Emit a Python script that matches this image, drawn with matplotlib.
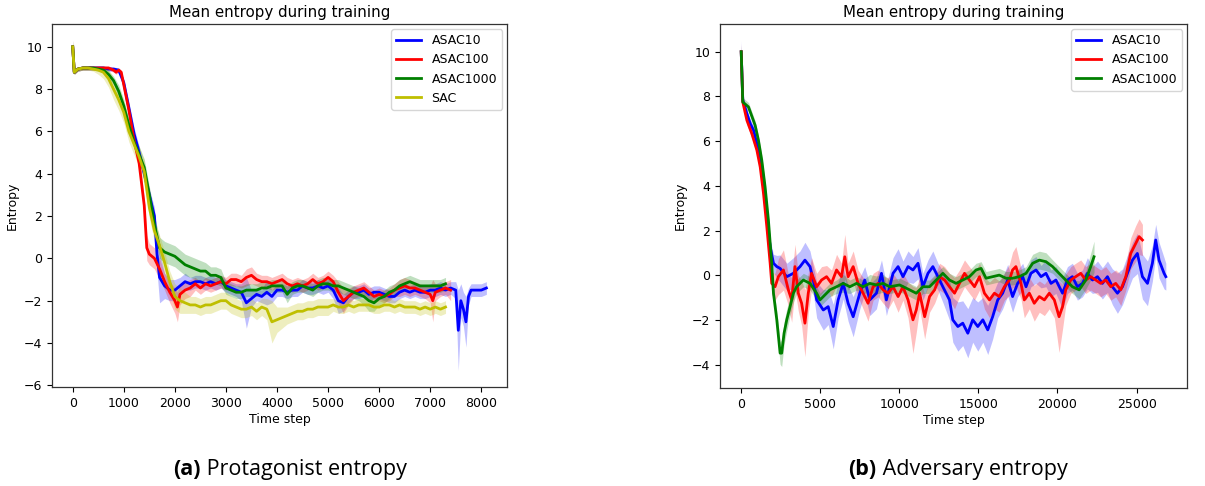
import matplotlib
matplotlib.use("Agg")
import matplotlib.pyplot as plt
import numpy as np

plt.rcParams['font.family'] = ['DejaVu Sans']

# ---------------- (a) Protagonist entropy ----------------
prot_x_asac10 = [0, 30, 100, 200, 300, 400, 500, 600, 700, 800, 900, 1000, 1100, 1200, 1300, 1400, 1500, 1600, 1650,
                 1700, 1800, 1900, 2000, 2100, 2200, 2300, 2400, 2500, 2600, 2700, 2800, 2900, 3000, 3100, 3200, 3300,
                 3400, 3500, 3600, 3700, 3800, 3900, 4000, 4100, 4200, 4300, 4400, 4500, 4600, 4700, 4800, 4900, 5000,
                 5100, 5200, 5300, 5400, 5500, 5600, 5700, 5800, 5900, 6000, 6100, 6200, 6300, 6400, 6500, 6600, 6700,
                 6800, 6900, 7000, 7100, 7200, 7300, 7400, 7500, 7550, 7600, 7650, 7700, 7750, 7800, 7900, 8000, 8100]
prot_y_asac10 = [10.0, 8.8, 8.95, 9.0, 9.0, 9.0, 9.0, 9.0, 8.95, 8.95, 8.9, 8.3, 7.1, 5.9, 5.0, 4.0, 3.0, 2.0, 0.2,
                 -0.9, -1.3, -1.5, -1.5, -1.3, -1.1, -1.2, -1.1, -1.1, -1.2, -1.1, -1.2, -1.1, -1.3, -1.4, -1.5, -1.6,
                 -2.1, -1.9, -1.7, -1.8, -1.6, -1.8, -1.5, -1.5, -1.6, -1.5, -1.5, -1.3, -1.4, -1.4, -1.3, -1.4, -1.3,
                 -1.5, -2.0, -2.1, -1.8, -1.6, -1.6, -1.5, -1.7, -1.6, -1.6, -1.7, -1.8, -1.8, -1.6, -1.5, -1.6, -1.5,
                 -1.6, -1.6, -1.5, -1.5, -1.4, -1.5, -1.4, -1.5, -3.4, -2.0, -2.4, -3.0, -1.8, -1.5, -1.5, -1.5, -1.4]
prot_s_asac10 = [0.3, 0.1, 0.1, 0.1, 0.1, 0.1, 0.1, 0.1, 0.1, 0.1, 0.1, 0.2, 0.3, 0.3, 0.3, 0.3, 0.3, 0.4, 0.8,
                 1.2, 0.6, 0.5, 0.5, 0.4, 0.4, 0.3, 0.3, 0.3, 0.3, 0.3, 0.3, 0.3, 0.3, 0.3, 0.3, 0.4,
                 1.2, 0.4, 0.3, 0.3, 0.6, 0.3, 0.3, 0.3, 0.3, 0.3, 0.3, 0.3, 0.3, 0.3, 0.3, 0.3, 0.3,
                 0.4, 0.6, 0.4, 0.3, 0.3, 0.3, 0.3, 0.3, 0.3, 0.3, 0.3, 0.3, 0.3, 0.3, 0.3, 0.3, 0.3,
                 0.3, 0.3, 0.3, 0.3, 0.3, 0.3, 0.3, 0.4, 1.9, 0.8, 0.8, 1.2, 0.4, 0.3, 0.3, 0.3, 0.3]

prot_x_asac100 = [0, 30, 100, 200, 300, 400, 500, 600, 700, 800, 850, 900, 950, 1000, 1100, 1200, 1300, 1400, 1450,
                  1500, 1600, 1700, 1800, 1900, 2000, 2050, 2100, 2200, 2300, 2400, 2500, 2600, 2700, 2800, 2900, 3000,
                  3100, 3200, 3300, 3400, 3500, 3600, 3700, 3800, 3900, 4000, 4100, 4200, 4300, 4400, 4500, 4600, 4700,
                  4800, 4900, 5000, 5100, 5200, 5300, 5400, 5500, 5600, 5700, 5800, 5900, 6000, 6100, 6200, 6300, 6400,
                  6500, 6600, 6700, 6800, 6900, 7000, 7050, 7100, 7200, 7300, 7400]
prot_y_asac100 = [10.0, 8.8, 8.95, 9.0, 9.0, 9.0, 9.0, 9.0, 9.0, 8.9, 8.8, 8.9, 8.8, 8.2, 7.0, 5.6, 4.5, 2.5, 0.5,
                  0.2, 0.0, -0.5, -1.1, -1.6, -2.0, -2.3, -1.7, -1.5, -1.4, -1.2, -1.4, -1.2, -1.3, -1.2, -1.1, -1.2,
                  -1.0, -1.0, -1.1, -0.9, -0.8, -1.0, -1.1, -1.1, -1.2, -1.1, -1.0, -1.2, -1.3, -1.2, -1.3, -1.2, -1.0,
                  -1.2, -1.1, -0.9, -1.1, -1.6, -2.0, -1.8, -1.6, -1.5, -1.4, -1.6, -1.8, -1.7, -1.8, -1.7, -1.5, -1.4,
                  -1.3, -1.4, -1.4, -1.5, -1.6, -1.7, -2.0, -1.6, -1.5, -1.4, -1.5]
prot_s_asac100 = [0.3, 0.1, 0.1, 0.1, 0.1, 0.1, 0.1, 0.1, 0.1, 0.1, 0.1, 0.1, 0.1, 0.2, 0.3, 0.3, 0.3, 0.4, 0.6,
                  0.5, 0.5, 0.5, 0.4, 0.5, 0.6, 0.7, 0.5, 0.4, 0.4, 0.3, 0.3, 0.3, 0.3, 0.3, 0.3, 0.3,
                  0.3, 0.3, 0.3, 0.4, 0.4, 0.3, 0.3, 0.3, 0.3, 0.3, 0.3, 0.3, 0.3, 0.3, 0.3, 0.3, 0.3,
                  0.3, 0.3, 0.3, 0.3, 0.5, 0.6, 0.4, 0.3, 0.3, 0.3, 0.3, 0.3, 0.3, 0.3, 0.3, 0.3, 0.4,
                  0.4, 0.4, 0.3, 0.3, 0.3, 0.4, 1.0, 0.4, 0.3, 0.3, 0.5]

prot_x_asac1000 = [0, 30, 100, 200, 300, 400, 500, 600, 700, 800, 900, 1000, 1100, 1200, 1300, 1400, 1500, 1600,
                   1700, 1800, 1900, 2000, 2100, 2200, 2300, 2400, 2500, 2600, 2700, 2800, 2900, 3000, 3100, 3200,
                   3300, 3400, 3500, 3600, 3700, 3800, 3900, 4000, 4100, 4200, 4300, 4400, 4500, 4600, 4700, 4800,
                   4900, 5000, 5100, 5200, 5300, 5400, 5500, 5600, 5700, 5800, 5900, 6000, 6100, 6200, 6300, 6400,
                   6500, 6600, 6700, 6800, 6900, 7000, 7100, 7200, 7300]
prot_y_asac1000 = [10.0, 8.8, 8.95, 9.0, 9.0, 9.0, 8.95, 8.9, 8.7, 8.4, 7.9, 7.2, 6.3, 5.5, 4.9, 4.3, 3.0, 1.6,
                   0.5, 0.3, 0.2, 0.1, -0.1, -0.3, -0.4, -0.5, -0.6, -0.6, -0.8, -0.8, -0.9, -1.4, -1.5, -1.6,
                   -1.6, -1.5, -1.5, -1.5, -1.4, -1.4, -1.3, -1.3, -1.3, -1.7, -1.4, -1.3, -1.3, -1.4, -1.5, -1.3,
                   -1.2, -1.2, -1.3, -1.3, -1.4, -1.5, -1.6, -1.7, -1.8, -2.0, -2.1, -1.9, -1.8, -1.6, -1.5, -1.3,
                   -1.2, -1.1, -1.2, -1.3, -1.3, -1.3, -1.3, -1.3, -1.2]
prot_s_asac1000 = [0.3, 0.1, 0.1, 0.1, 0.1, 0.1, 0.1, 0.1, 0.2, 0.2, 0.3, 0.3, 0.3, 0.3, 0.4, 0.4, 0.4, 0.4,
                   0.5, 0.5, 0.5, 0.5, 0.5, 0.5, 0.5, 0.5, 0.5, 0.4, 0.4, 0.4, 0.4, 0.3, 0.3, 0.3,
                   0.3, 0.3, 0.3, 0.3, 0.3, 0.3, 0.3, 0.3, 0.3, 0.4, 0.3, 0.3, 0.3, 0.3, 0.3, 0.3,
                   0.3, 0.3, 0.3, 0.3, 0.3, 0.3, 0.3, 0.3, 0.4, 0.5, 0.4, 0.3, 0.3, 0.3, 0.3, 0.3,
                   0.3, 0.3, 0.3, 0.3, 0.3, 0.3, 0.3, 0.3, 0.3]

prot_x_sac = prot_x_asac1000
prot_y_sac = [10.0, 8.8, 8.95, 9.0, 9.0, 8.95, 8.9, 8.8, 8.5, 8.0, 7.5, 6.9, 6.0, 5.4, 4.8, 4.1, 2.4, 1.3,
              0.6, -0.2, -1.1, -1.8, -2.0, -2.1, -2.2, -2.2, -2.3, -2.2, -2.2, -2.1, -2.0, -2.0, -2.2, -2.3,
              -2.4, -2.4, -2.3, -2.5, -2.3, -2.4, -3.0, -2.9, -2.8, -2.7, -2.6, -2.5, -2.5, -2.4, -2.4, -2.3,
              -2.3, -2.3, -2.2, -2.3, -2.3, -2.2, -2.3, -2.2, -2.2, -2.2, -2.3, -2.3, -2.2, -2.2, -2.3, -2.2,
              -2.3, -2.3, -2.3, -2.4, -2.3, -2.4, -2.3, -2.4, -2.3]
prot_s_sac = [0.3, 0.1, 0.1, 0.1, 0.1, 0.1, 0.2, 0.3, 0.4, 0.5, 0.5, 0.5, 0.5, 0.5, 0.5, 0.5, 0.5, 0.5,
              0.5, 0.5, 0.5, 0.6, 0.6, 0.5, 0.4, 0.4, 0.4, 0.4, 0.4, 0.4, 0.4, 0.4, 0.4, 0.4,
              0.4, 0.4, 0.4, 0.4, 0.4, 0.5, 1.0, 0.6, 0.5, 0.4, 0.4, 0.4, 0.4, 0.4, 0.4, 0.4,
              0.4, 0.4, 0.3, 0.3, 0.3, 0.3, 0.3, 0.3, 0.3, 0.3, 0.3, 0.3, 0.3, 0.3, 0.3, 0.3,
              0.3, 0.3, 0.3, 0.3, 0.3, 0.3, 0.3, 0.3, 0.3]

# ---------------- (b) Adversary entropy ----------------
adv_x_asac10 = [0, 100, 360, 570, 780, 990, 1200, 1410, 1620, 1830,
                2040, 2250, 2460, 2880, 3300, 3720, 4030, 4350, 4560, 4770,
                5190, 5500, 5820, 6130, 6450, 6760, 7080, 7500, 7810, 8130,
                8550, 8870, 9180, 9600, 9920, 10230, 10550, 10860, 11180, 11490,
                11810, 12120, 12440, 12750, 13170, 13380, 13700, 14010, 14330, 14640,
                14960, 15280, 15590, 15900, 16220, 16530, 16850, 17160, 17480, 17800,
                18010, 18320, 18640, 18960, 19270, 19590, 19900, 20320, 20630, 20940,
                21260, 21580, 21890, 22210, 22530, 22840, 23160, 23470, 23790, 24110,
                24420, 24740, 25050, 25370, 25690, 26000, 26210, 26420, 26740, 26850]
adv_y_asac10 = [10.0, 7.83, 7.23, 6.79, 6.49, 5.89, 5.15, 3.96, 2.62, 1.28,
                0.54, 0.39, 0.31, -0.06, 0.09, 0.39, 0.68, 0.39, -0.21, -1.10,
                -1.55, -1.40, -2.29, -1.10, -0.36, -1.25, -1.85, -0.80, -0.21, -1.10,
                -0.80, 0.09, -1.10, 0.09, 0.39, -0.06, 0.39, 0.24, 0.54, -0.51,
                0.09, 0.39, -0.06, -0.51, -1.10, -1.99, -2.29, -2.14, -2.59, -1.99,
                -2.29, -1.99, -2.44, -1.85, -1.10, -0.80, -0.21, -0.95, -0.36, -0.06,
                -0.51, 0.09, 0.24, -0.06, 0.09, -0.36, -0.21, -0.80, -0.21, -0.06,
                -0.51, -0.36, 0.09, -0.21, -0.06, -0.36, -0.06, -0.51, -0.80, -0.51,
                0.09, 0.68, 0.98, -0.06, -0.36, 0.54, 1.58, 0.68, 0.09, -0.06]
adv_s_asac10 = [0.5, 0.2, 0.2, 0.2, 0.2, 0.2, 0.2, 0.2, 0.2, 0.3,
                0.4, 0.5, 0.6, 0.6, 0.7, 0.7, 0.8, 0.7, 0.6, 0.8,
                0.9, 0.8, 1.0, 0.8, 0.7, 0.8, 0.9, 0.7, 0.6, 0.7,
                0.7, 0.6, 0.7, 0.7, 0.8, 0.7, 0.7, 0.6, 0.7, 0.6,
                0.6, 0.7, 0.6, 0.7, 0.9, 1.0, 1.1, 1.0, 1.1, 1.0,
                1.1, 1.0, 1.1, 1.0, 0.8, 0.7, 0.7, 0.7, 0.6, 0.6,
                0.6, 0.6, 0.6, 0.5, 0.6, 0.6, 0.6, 0.7, 0.6, 0.6,
                0.6, 0.6, 0.7, 0.6, 0.7, 0.7, 0.7, 0.8, 0.9, 0.8,
                0.8, 0.8, 0.9, 1.0, 1.0, 0.8, 0.7, 0.8, 0.7, 0.6]

adv_x_asac100 = [0, 100, 360, 670, 990, 1200, 1410, 1620, 1830, 1930,
                 2140, 2350, 2670, 2980, 3190, 3400, 3610, 3820, 4030, 4240,
                 4450, 4770, 5080, 5400, 5710, 6030, 6340, 6550, 6760, 7080,
                 7390, 7710, 8020, 8340, 8660, 8970, 9290, 9600, 9920, 10230,
                 10550, 10860, 11070, 11280, 11600, 11910, 12230, 12540, 12860, 13170,
                 13490, 13800, 14120, 14430, 14750, 15070, 15380, 15700, 16010, 16320,
                 16640, 16960, 17160, 17370, 17690, 17900, 18220, 18530, 18850, 19170,
                 19480, 19800, 20100, 20320, 20520, 20840, 21150, 21470, 21790, 22100,
                 22420, 22730, 23050, 23370, 23680, 24000, 24320, 24630, 24950, 25160,
                 25370]
adv_y_asac100 = [10.0, 7.75, 6.93, 6.34, 5.60, 4.85, 3.66, 2.17, 0.54, -0.36,
                 -0.51, -0.06, 0.24, -0.65, -1.10, 0.39, -0.80, -1.25, -2.14, -0.80,
                 0.09, -0.51, -0.21, -0.06, -0.36, 0.24, -0.06, 0.83, -0.06, 0.39,
                 -0.36, -0.80, -1.25, -0.51, -0.36, -0.65, -0.80, -0.51, -0.95, -0.51,
                 -1.10, -1.99, -1.55, -0.80, -1.85, -0.95, -0.65, -0.06, -0.21, -0.51,
                 -0.80, -0.36, 0.09, -0.21, -0.51, -0.06, -0.80, -1.10, -0.80, -0.95,
                 -0.51, -0.21, 0.24, 0.39, -0.36, -1.10, -0.80, -1.25, -0.95, -1.10,
                 -0.80, -1.10, -1.85, -1.40, -0.65, -0.21, -0.06, 0.09, -0.21, -0.06,
                 -0.21, -0.36, -0.21, -0.51, -0.36, -0.65, -0.06, 0.98, 1.43, 1.73,
                 1.58]
adv_s_asac100 = [0.4, 0.2, 0.2, 0.2, 0.2, 0.2, 0.2, 0.3, 0.4, 0.5,
                 0.6, 0.8, 0.9, 0.7, 1.0, 1.0, 0.8, 1.0, 1.5, 0.9,
                 0.7, 0.6, 0.6, 0.5, 0.6, 0.7, 0.6, 1.0, 0.6, 0.7,
                 0.6, 0.7, 0.8, 0.6, 0.6, 0.6, 0.7, 0.6, 0.7, 0.6,
                 0.8, 1.5, 1.0, 0.7, 1.0, 0.7, 0.6, 0.6, 0.6, 0.6,
                 0.7, 0.6, 0.6, 0.6, 0.6, 0.6, 0.7, 0.8, 0.7, 0.7,
                 0.6, 0.7, 0.8, 0.9, 0.7, 0.8, 0.7, 0.8, 0.7, 0.7,
                 0.7, 0.8, 1.6, 1.0, 0.7, 0.6, 0.6, 0.6, 0.6, 0.6,
                 0.6, 0.6, 0.6, 0.6, 0.6, 0.7, 0.6, 0.7, 0.8, 0.8,
                 0.7]

adv_x_asac1000 = [0, 100, 460, 880, 1090, 1300, 1510, 1720, 1930, 2040,
                  2250, 2460, 2560, 2710, 2880, 3090, 3300, 3500, 3930, 4350,
                  4770, 4980, 5190, 5610, 6030, 6450, 6870, 7290, 7710, 8130,
                  8550, 8970, 9390, 10020, 10650, 11070, 11490, 11910, 12330, 12750,
                  13170, 13590, 14010, 14430, 14850, 15170, 15480, 15900, 16320, 16740,
                  17160, 17580, 18010, 18430, 18850, 19270, 19690, 20100, 20520, 20940,
                  21370, 21790, 22100, 22310]
adv_y_asac1000 = [10.0, 7.75, 7.53, 6.71, 6.04, 5.15, 3.96, 2.47, 0.54, -0.80,
                  -1.99, -3.48, -3.48, -2.59, -1.99, -1.40, -0.80, -0.51, -0.21, -0.36,
                  -0.80, -1.10, -0.95, -0.65, -0.51, -0.36, -0.51, -0.36, -0.51, -0.36,
                  -0.43, -0.36, -0.51, -0.43, -0.65, -0.80, -0.51, -0.51, -0.21, 0.09,
                  -0.21, -0.36, -0.21, -0.06, 0.24, 0.31, -0.13, -0.06, 0.01, -0.13,
                  -0.13, -0.06, 0.09, 0.54, 0.68, 0.61, 0.39, 0.09, -0.21, -0.51,
                  -0.65, -0.21, 0.39, 0.83]
adv_s_asac1000 = [0.3, 0.2, 0.2, 0.2, 0.2, 0.2, 0.2, 0.2, 0.3, 0.3,
                  0.4, 0.5, 0.6, 0.5, 0.5, 0.4, 0.4, 0.3, 0.3, 0.3,
                  0.3, 0.3, 0.3, 0.3, 0.3, 0.4, 0.3, 0.3, 0.3, 0.4,
                  0.4, 0.4, 0.3, 0.3, 0.3, 0.3, 0.3, 0.3, 0.3, 0.3,
                  0.3, 0.3, 0.3, 0.3, 0.3, 0.3, 0.3, 0.3, 0.3, 0.3,
                  0.3, 0.3, 0.3, 0.4, 0.4, 0.4, 0.3, 0.3, 0.3, 0.3,
                  0.4, 0.4, 0.6, 0.7]

labels_a = ['ASAC10', 'ASAC100', 'ASAC1000', 'SAC']
labels_b = ['ASAC10', 'ASAC100', 'ASAC1000']
colors = ['#0000ff', '#ff0000', '#008000', '#bfbf00']

title_txt = 'Mean entropy during training'
caption_a = ('(a)', ' Protagonist entropy')
caption_b = ('(b)', ' Adversary entropy')

fig = plt.figure(figsize=(12.05, 4.86), dpi=100)
ax1 = fig.add_axes([0.0432, 0.2037, 0.3776, 0.7469])
ax2 = fig.add_axes([0.5975, 0.2016, 0.3876, 0.7490])

def draw(ax, series, labels):
    for (x, y, s), lab, c in zip(series, labels, colors):
        x = np.asarray(x, float); y = np.asarray(y, float); s = np.asarray(s, float)
        ax.fill_between(x, y - s, y + s, color=c, alpha=0.25, lw=0)
        ax.plot(x, y, color=c, lw=2.0, label=lab)

draw(ax1, [(prot_x_asac10, prot_y_asac10, prot_s_asac10),
           (prot_x_asac100, prot_y_asac100, prot_s_asac100),
           (prot_x_asac1000, prot_y_asac1000, prot_s_asac1000),
           (prot_x_sac, prot_y_sac, prot_s_sac)], labels_a)
draw(ax2, [(adv_x_asac10, adv_y_asac10, adv_s_asac10),
           (adv_x_asac100, adv_y_asac100, adv_s_asac100),
           (adv_x_asac1000, adv_y_asac1000, adv_s_asac1000)], labels_b)

ax1.set_xlim(-405, 8505); ax1.set_ylim(-6.08, 11.08)
ax1.set_xticks(range(0, 8001, 1000)); ax1.set_yticks(range(-6, 11, 2))
ax2.set_xlim(-1342, 28192); ax2.set_ylim(-5.04, 11.24)
ax2.set_xticks(range(0, 25001, 5000)); ax2.set_yticks(range(-4, 11, 2))

for ax in (ax1, ax2):
    ax.set_title(title_txt, fontsize=10.8, pad=5)
    ax.set_xlabel('Time step', fontsize=9, labelpad=2)
    ax.set_ylabel('Entropy', fontsize=9)
    ax.tick_params(labelsize=9, length=3.5, width=0.8)
    for sp in ax.spines.values():
        sp.set_linewidth(0.9); sp.set_color('#333333')
    leg = ax.legend(loc='upper right', fontsize=9, framealpha=0.8, borderaxespad=0.4)
    for ln in leg.get_lines():
        ln.set_linewidth(2.0)

def caption(xc, parts):
    fs = 15.5
    t1 = fig.text(xc, 0.022, parts[0], fontsize=fs, fontweight='bold',
                  family=['Open Sans', 'DejaVu Sans'], ha='left', va='baseline')
    fig.canvas.draw()
    bb1 = t1.get_window_extent()
    t2 = fig.text(0, 0.022, parts[1], fontsize=fs, family=['Open Sans', 'DejaVu Sans'],
                  ha='left', va='baseline')
    bb2 = t2.get_window_extent()
    total = bb1.width + bb2.width
    x0 = xc * fig.bbox.width - total / 2
    t1.set_x(x0 / fig.bbox.width)
    t2.set_x((x0 + bb1.width) / fig.bbox.width)

caption(290 / 1205, caption_a)
caption(958 / 1205, caption_b)

fig.savefig('out.png', dpi=100)
